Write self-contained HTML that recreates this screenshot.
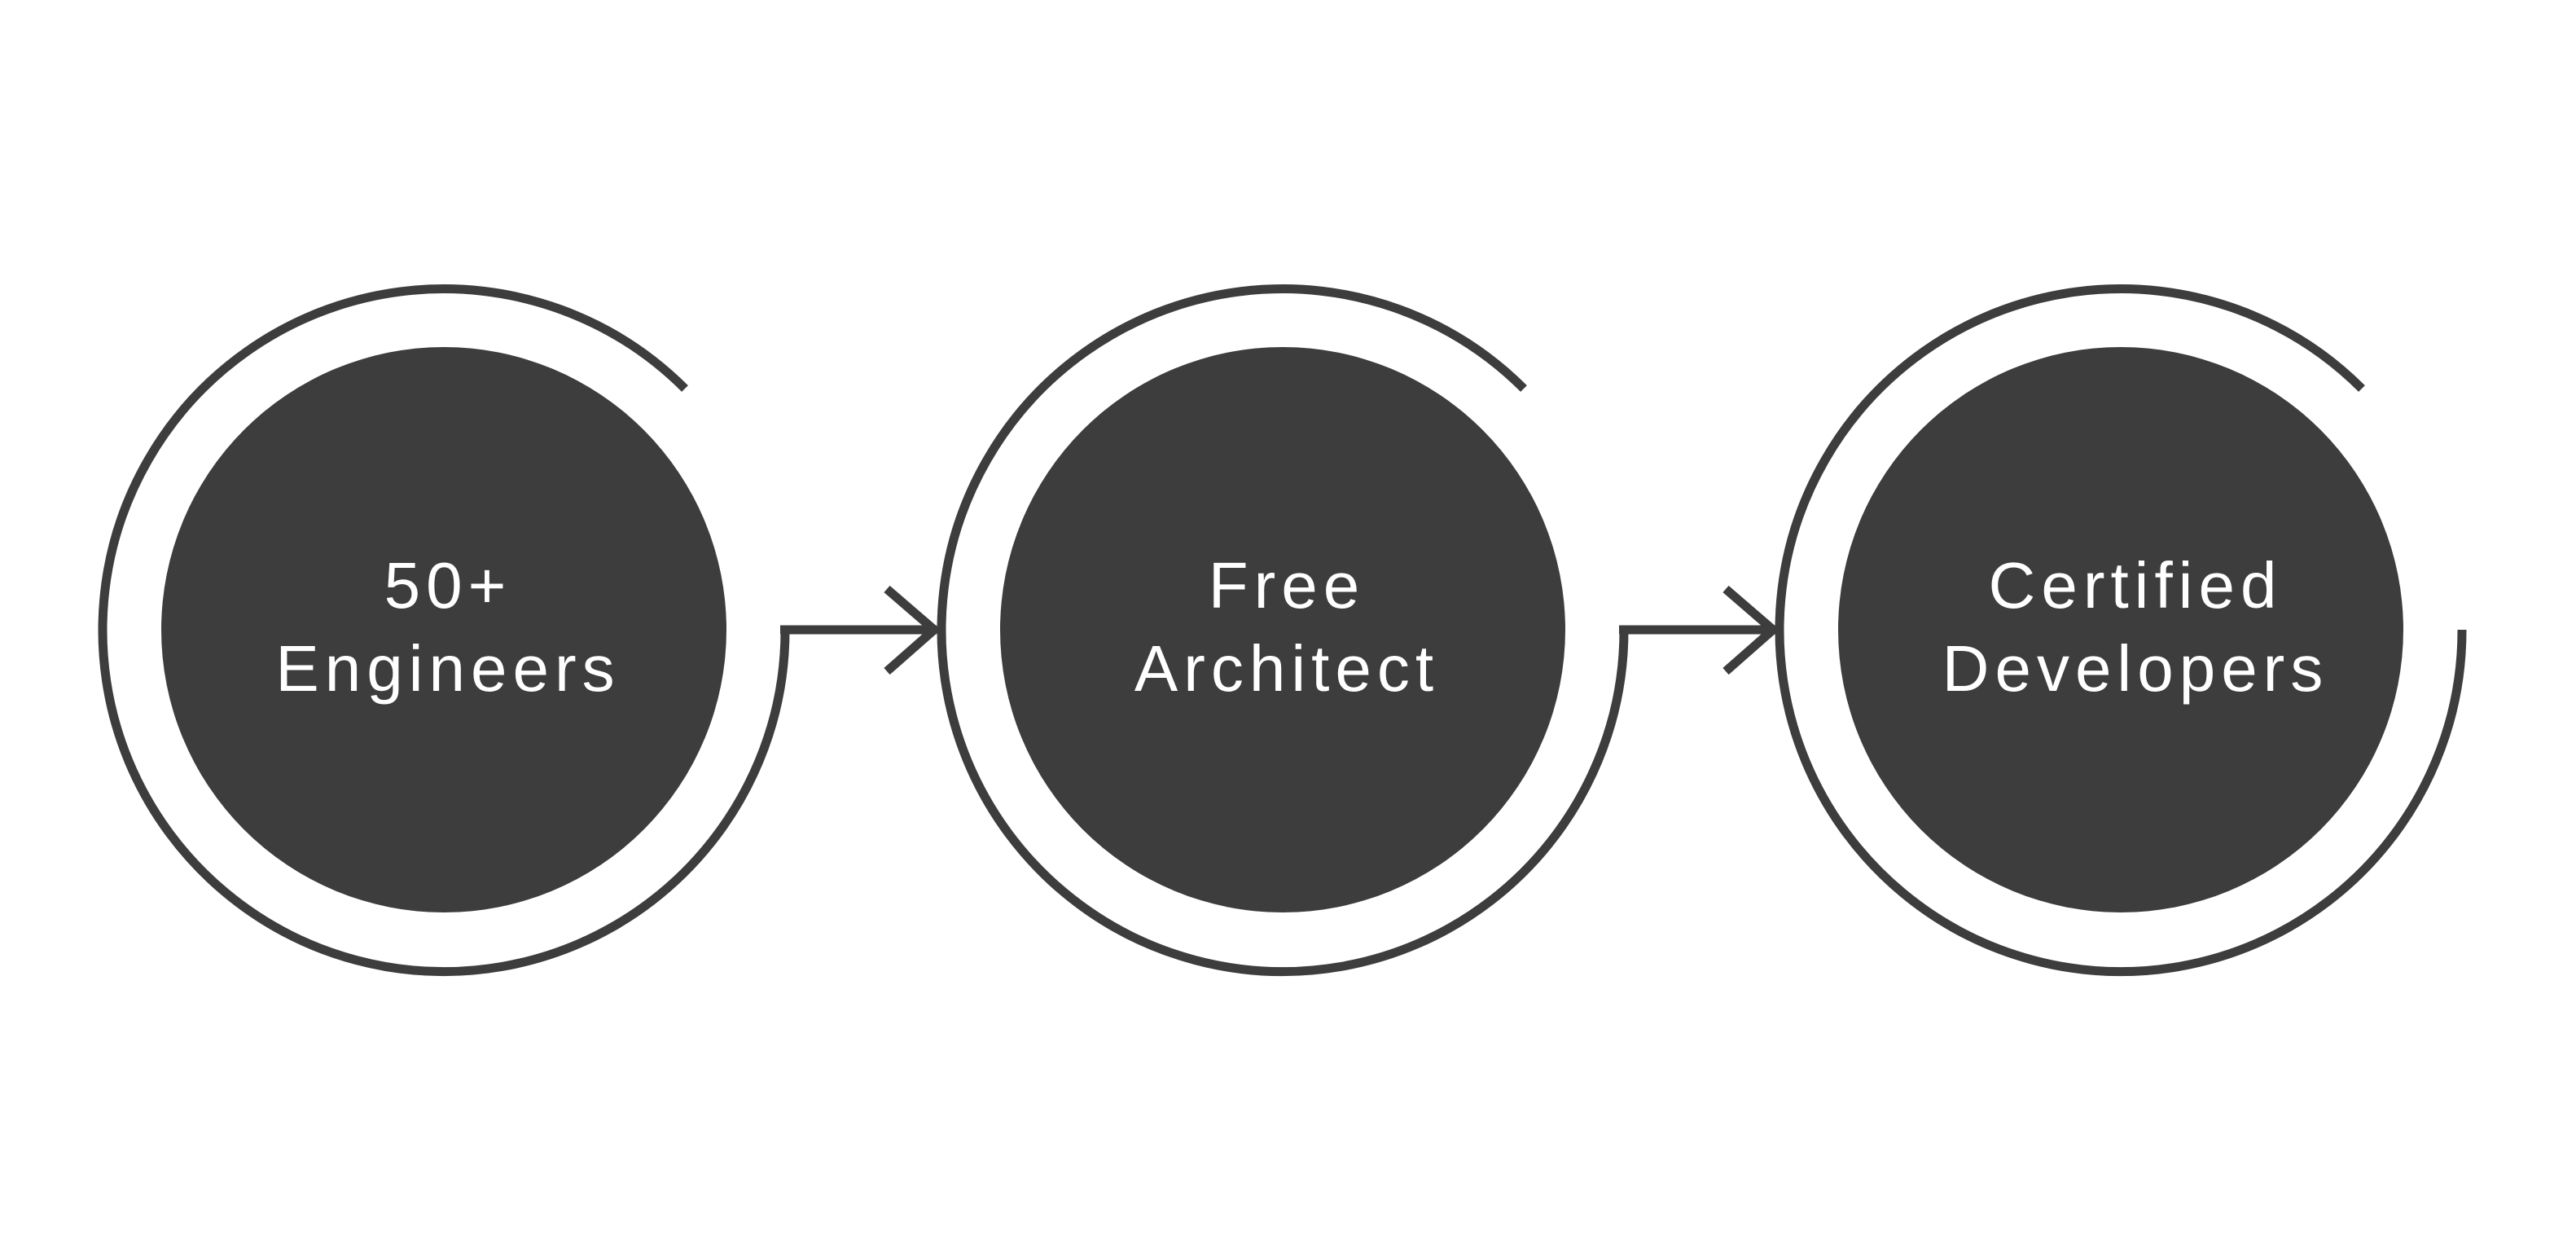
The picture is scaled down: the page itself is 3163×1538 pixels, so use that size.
<!DOCTYPE html>
<html><head><meta charset="utf-8"><style>
html,body{margin:0;padding:0;background:#fff;}
svg{display:block;}
text{font-family:"Liberation Sans",sans-serif;font-size:80px;fill:#fff;text-anchor:middle;letter-spacing:7px;}
</style></head><body>
<svg width="3163" height="1538" viewBox="0 0 3163 1538" xmlns="http://www.w3.org/2000/svg">
<g fill="none" stroke="#3d3d3d" stroke-width="11">
<path d="M964 773 A419 419 0 1 1 841 477"/>
<path d="M1994 773 A419 419 0 1 1 1871 477"/>
<path d="M3023 773 A419 419 0 1 1 2900 477"/>
<path d="M958 773 L1150 773"/>
<polyline points="1089,723 1147,773 1089,824"/>
<path d="M1988 773 L2180 773"/>
<polyline points="2119,723 2177,773 2119,824"/>
</g>
<g fill="#3d3d3d">
<circle cx="545" cy="773" r="347"/>
<circle cx="1575" cy="773" r="347"/>
<circle cx="2604" cy="773" r="347"/>
</g>
<text x="550" y="746">50+</text>
<text x="550" y="848">Engineers</text>
<text x="1580" y="746">Free</text>
<text x="1580" y="848">Architect</text>
<text x="2622" y="746">Certified</text>
<text x="2622" y="848">Developers</text>
</svg>
</body></html>
